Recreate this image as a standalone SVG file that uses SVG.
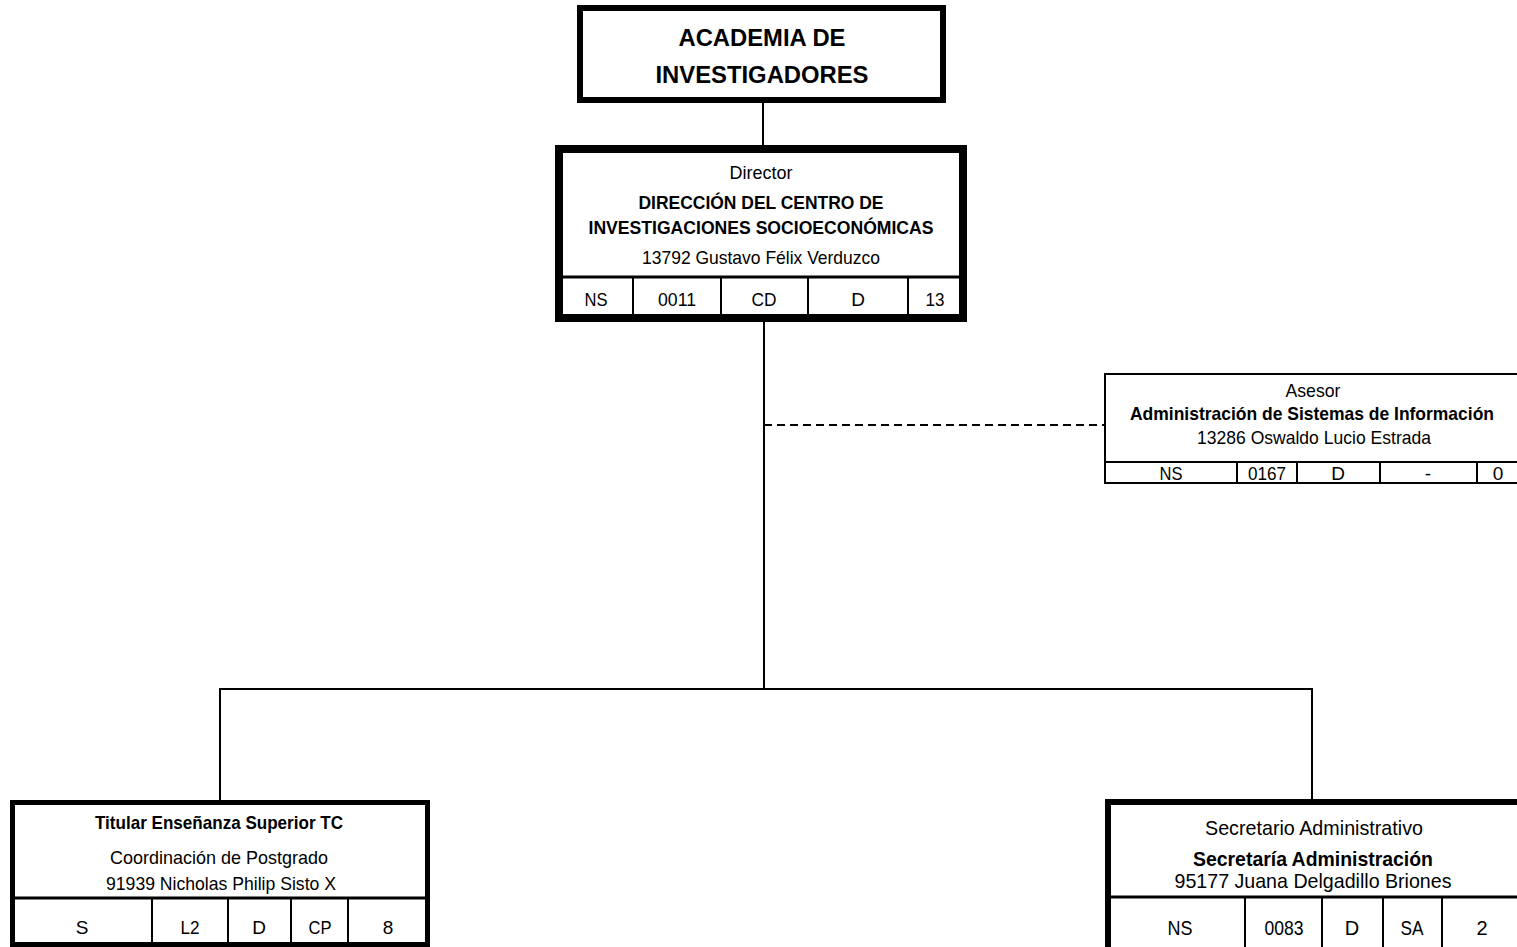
<svg xmlns="http://www.w3.org/2000/svg" width="1517" height="947" viewBox="0 0 1517 947">
<style>
text{font-family:"Liberation Sans",Arial,sans-serif;fill:#000;text-anchor:middle}
.b{font-weight:bold}
.box{fill:#fff;stroke:#000}
.ln{stroke:#000;stroke-width:2;fill:none}
.conn{stroke:#000;stroke-width:2;fill:none}
.dash{stroke-dasharray:8 5}
</style>
<rect width="1517" height="947" fill="#fff"/>
<g id="connectors">
<line class="conn" x1="763" y1="103" x2="763" y2="145"/>
<line class="conn" x1="764" y1="322" x2="764" y2="689"/>
<line class="conn dash" x1="764" y1="425" x2="1105" y2="425"/>
<line class="conn" x1="219" y1="689" x2="1313" y2="689"/>
<line class="conn" x1="220" y1="688" x2="220" y2="800"/>
<line class="conn" x1="1312" y1="688" x2="1312" y2="799"/>
</g>
<g id="academia">
<rect class="box" x="580" y="8" width="363" height="92" stroke-width="6"/>
<text class="b" x="762" y="46" font-size="24" textLength="167" lengthAdjust="spacingAndGlyphs">ACADEMIA DE</text>
<text class="b" x="762" y="83" font-size="24" textLength="213" lengthAdjust="spacingAndGlyphs">INVESTIGADORES</text>
</g>
<g id="director">
<rect class="box" x="559" y="149" width="404" height="169" stroke-width="8"/>
<line x1="559" y1="277" x2="963" y2="277" stroke="#000" stroke-width="3"/>
<line class="ln" x1="633" y1="277" x2="633" y2="318"/>
<line class="ln" x1="721" y1="277" x2="721" y2="318"/>
<line class="ln" x1="808" y1="277" x2="808" y2="318"/>
<line class="ln" x1="908" y1="277" x2="908" y2="318"/>
<text x="761" y="179" font-size="19" textLength="63" lengthAdjust="spacingAndGlyphs">Director</text>
<text class="b" x="761" y="209" font-size="19" textLength="245" lengthAdjust="spacingAndGlyphs">DIRECCIÓN DEL CENTRO DE</text>
<text class="b" x="761" y="234" font-size="19" textLength="345" lengthAdjust="spacingAndGlyphs">INVESTIGACIONES SOCIOECONÓMICAS</text>
<text x="761" y="264" font-size="19" textLength="238" lengthAdjust="spacingAndGlyphs">13792 Gustavo Félix Verduzco</text>
<g font-size="19">
<text x="596" y="306" textLength="23" lengthAdjust="spacingAndGlyphs">NS</text>
<text x="677" y="306" textLength="38" lengthAdjust="spacingAndGlyphs">0011</text>
<text x="764" y="306" textLength="25" lengthAdjust="spacingAndGlyphs">CD</text>
<text x="858" y="306">D</text>
<text x="935" y="306" textLength="19" lengthAdjust="spacingAndGlyphs">13</text>
</g>
</g>
<g id="asesor">
<rect class="box" x="1105" y="374" width="418" height="109" stroke-width="2"/>
<line class="ln" x1="1105" y1="462" x2="1517" y2="462"/>
<line class="ln" x1="1237" y1="462" x2="1237" y2="483"/>
<line class="ln" x1="1297" y1="462" x2="1297" y2="483"/>
<line class="ln" x1="1380" y1="462" x2="1380" y2="483"/>
<line class="ln" x1="1477" y1="462" x2="1477" y2="483"/>
<text x="1313" y="397" font-size="19" textLength="55" lengthAdjust="spacingAndGlyphs">Asesor</text>
<text class="b" x="1312" y="420" font-size="19" textLength="364" lengthAdjust="spacingAndGlyphs">Administración de Sistemas de Información</text>
<text x="1314" y="444" font-size="19" textLength="234" lengthAdjust="spacingAndGlyphs">13286 Oswaldo Lucio Estrada</text>
<g font-size="19">
<text x="1171" y="480" textLength="23" lengthAdjust="spacingAndGlyphs">NS</text>
<text x="1267" y="480" textLength="38" lengthAdjust="spacingAndGlyphs">0167</text>
<text x="1338" y="480">D</text>
<text x="1428" y="480">-</text>
<text x="1498" y="480">0</text>
</g>
</g>
<g id="titular">
<rect class="box" x="12.5" y="802.5" width="415" height="142" stroke-width="5"/>
<line x1="12" y1="898" x2="428" y2="898" stroke="#000" stroke-width="3"/>
<line class="ln" x1="152" y1="898" x2="152" y2="944"/>
<line class="ln" x1="228" y1="898" x2="228" y2="944"/>
<line class="ln" x1="291" y1="898" x2="291" y2="944"/>
<line class="ln" x1="348" y1="898" x2="348" y2="944"/>
<text class="b" x="219" y="829" font-size="19" textLength="248" lengthAdjust="spacingAndGlyphs">Titular Enseñanza Superior TC</text>
<text x="219" y="864" font-size="19" textLength="218" lengthAdjust="spacingAndGlyphs">Coordinación de Postgrado</text>
<text x="221" y="890" font-size="19" textLength="230" lengthAdjust="spacingAndGlyphs">91939 Nicholas Philip Sisto X</text>
<g font-size="19">
<text x="82" y="934">S</text>
<text x="190" y="934" textLength="19" lengthAdjust="spacingAndGlyphs">L2</text>
<text x="259" y="934">D</text>
<text x="320" y="934" textLength="23" lengthAdjust="spacingAndGlyphs">CP</text>
<text x="388" y="934">8</text>
</g>
</g>
<g id="secretario">
<rect class="box" x="1108" y="802" width="418" height="152" stroke-width="6"/>
<line x1="1108" y1="897" x2="1517" y2="897" stroke="#000" stroke-width="3"/>
<line class="ln" x1="1245" y1="897" x2="1245" y2="947"/>
<line class="ln" x1="1322" y1="897" x2="1322" y2="947"/>
<line class="ln" x1="1383" y1="897" x2="1383" y2="947"/>
<line class="ln" x1="1442" y1="897" x2="1442" y2="947"/>
<text x="1314" y="835" font-size="21" textLength="218" lengthAdjust="spacingAndGlyphs">Secretario Administrativo</text>
<text class="b" x="1313" y="866" font-size="21" textLength="240" lengthAdjust="spacingAndGlyphs">Secretaría Administración</text>
<text x="1313" y="888" font-size="21" textLength="277" lengthAdjust="spacingAndGlyphs">95177 Juana Delgadillo Briones</text>
<g font-size="20">
<text x="1180" y="935" textLength="25" lengthAdjust="spacingAndGlyphs">NS</text>
<text x="1284" y="935" textLength="39" lengthAdjust="spacingAndGlyphs">0083</text>
<text x="1352" y="935">D</text>
<text x="1412" y="935" textLength="23" lengthAdjust="spacingAndGlyphs">SA</text>
<text x="1482" y="935">2</text>
</g>
</g>
</svg>
